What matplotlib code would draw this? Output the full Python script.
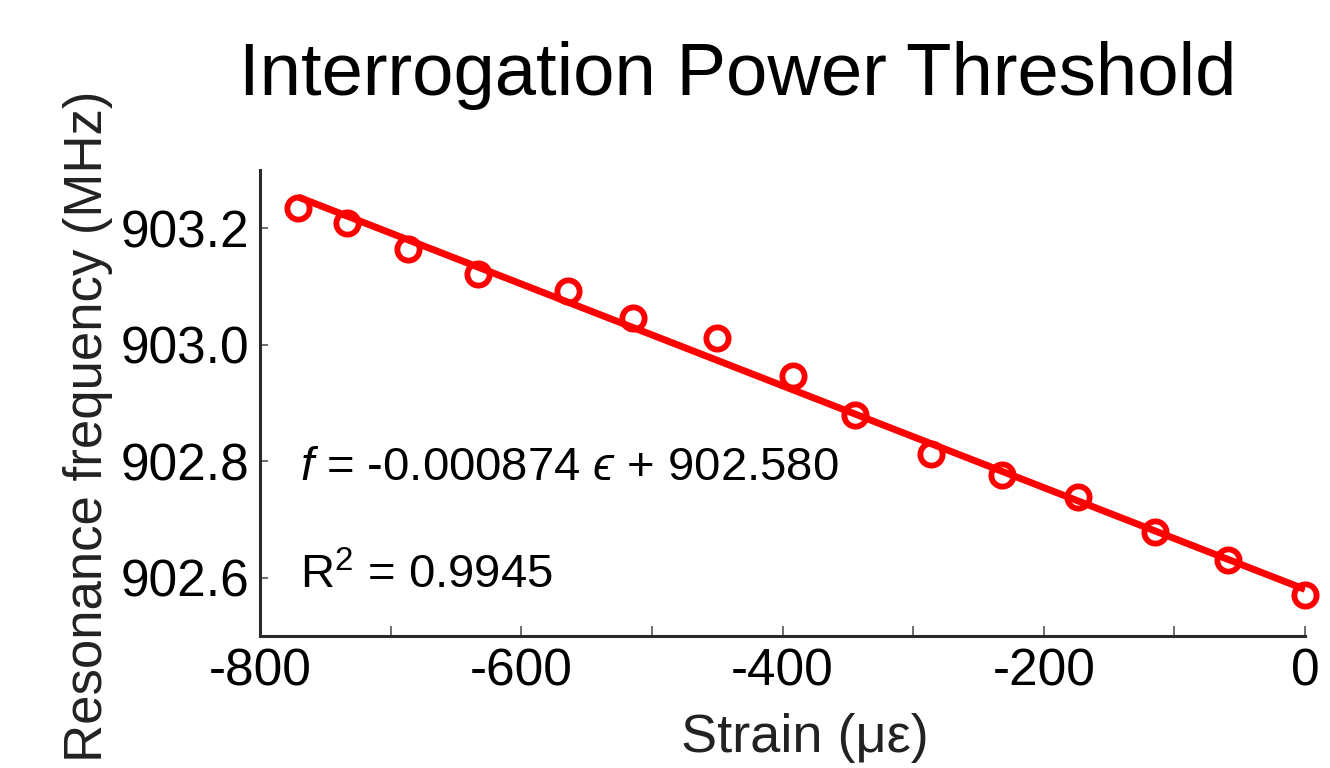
import numpy as np
import matplotlib
matplotlib.use('Agg')
import matplotlib.pyplot as plt
from matplotlib.ticker import MultipleLocator, FormatStrFormatter

plt.rcParams['font.family'] = ['Liberation Sans', 'DejaVu Sans']
plt.rcParams['axes.unicode_minus'] = False
plt.rcParams['mathtext.fontset'] = 'custom'
plt.rcParams['mathtext.rm'] = 'Liberation Sans'
plt.rcParams['mathtext.it'] = 'Liberation Sans:italic'
plt.rcParams['mathtext.fallback'] = 'cm'

# measured points (strain in microstrain, resonance frequency in MHz)
strain = [-770.7, -733.2, -686.4, -632.8, -563.9, -514.2, -450.3, -392.1,
          -344.4, -286.4, -232.1, -173.4, -114.7, -58.6, 0.0]
freq = [903.235, 903.209, 903.164, 903.122, 903.092, 903.046, 903.011, 902.947,
        902.879, 902.813, 902.776, 902.738, 902.678, 902.630, 902.571]

# linear fit reported on the chart
slope = -0.000874
intercept = 902.580
r_squared = 0.9945

fig = plt.figure(figsize=(13.3, 7.68), dpi=100)
ax = fig.add_axes([0.1955, 0.1719, 0.7857, 0.6067])

x_fit = np.array([min(strain), max(strain)])
ax.plot(x_fit, slope * x_fit + intercept, color='#ff0000', linewidth=5,
        solid_capstyle='butt', zorder=2)
ax.plot(strain, freq, linestyle='none', marker='o', markersize=16,
        markerfacecolor='none', markeredgecolor='#ff0000', markeredgewidth=4.2,
        clip_on=False, zorder=3)

ax.set_xlim(-800, 0)
ax.set_ylim(902.5, 903.3)
ax.xaxis.set_major_locator(MultipleLocator(200))
ax.xaxis.set_minor_locator(MultipleLocator(100))
ax.yaxis.set_major_locator(MultipleLocator(0.2))
ax.yaxis.set_major_formatter(FormatStrFormatter('%.1f'))

for s in ['top', 'right']:
    ax.spines[s].set_visible(False)
for s in ['left', 'bottom']:
    ax.spines[s].set_linewidth(2.2)
    ax.spines[s].set_color('#2a2a2a')

ax.tick_params(axis='both', which='both', direction='in', length=7, width=1.2,
               color='#555555', labelsize=37, pad=8)
ax.tick_params(axis='y', which='both', left=True, length=6)

ax.set_xlabel('Strain (με)', fontsize=39, color='#222222')
ax.xaxis.set_label_coords(0.5215, -0.165)
ax.set_ylabel('Resonance frequency (MHz)', fontsize=38, color='#222222', va='center')
ax.yaxis.set_label_coords(-0.165, 0.45)

ax.text(40 / 1045, (636 - 480) / 466,
        '$f$ = %.6f $\u03f5$ + %.3f' % (slope, intercept),
        transform=ax.transAxes, fontsize=34, va='baseline', ha='left')
ax.text(40 / 1045, (636 - 588) / 466, r'R$^2$ = %.4f' % r_squared,
        transform=ax.transAxes, fontsize=34, va='baseline', ha='left')

fig.text(0.5545, 1 - 95 / 768, 'Interrogation Power Threshold', fontsize=53.5,
         ha='center', va='baseline')

fig.savefig('out.png', dpi=100)
